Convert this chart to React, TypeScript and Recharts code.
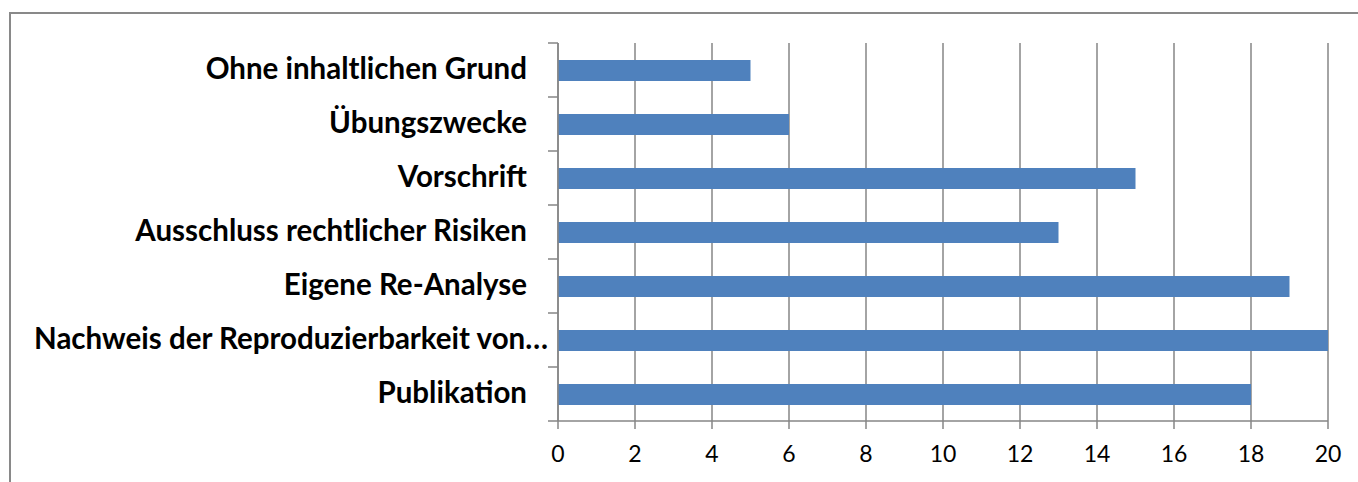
import React from "react"
import { Bar, BarChart, CartesianGrid, XAxis, YAxis } from "recharts"

const categories = [
  "Ohne inhaltlichen Grund",
  "Übungszwecke",
  "Vorschrift",
  "Ausschluss rechtlicher Risiken",
  "Eigene Re-Analyse",
  "Nachweis der Reproduzierbarkeit von…",
  "Publikation",
]
const counts = [5, 6, 15, 13, 19, 20, 18]
const xTicks = [0, 2, 4, 6, 8, 10, 12, 14, 16, 18, 20]

const data = categories.map((name, i) => ({ name, value: counts[i] }))

const GRID = "#868686"

const CategoryTick = (props: any) => {
  const { x, y, payload, index, visibleTicksCount } = props
  const half = payload.offset || 0
  const truncated = String(payload.value).endsWith("…")
  return (
    <g>
      <line x1={x - 10} x2={x} y1={y - half} y2={y - half} stroke={GRID} strokeWidth={1.5} />
      {index === visibleTicksCount - 1 && (
        <line x1={x - 10} x2={x} y1={y + half} y2={y + half} stroke={GRID} strokeWidth={1.5} />
      )}
      <text
        x={truncated ? x - 10 : x - 31}
        y={y + 9}
        textAnchor="end"
        fill="#000"
        fontFamily="Lato"
        fontWeight={700}
        fontSize={29.5}
      >
        {payload.value}
      </text>
    </g>
  )
}

export default function App() {
  return (
    <div style={{ position: "absolute", left: 0, top: 0, width: 1358, height: 482, background: "#fff" }}>
      <div
        style={{
          position: "absolute",
          left: 9,
          top: 12,
          right: -4,
          bottom: -4,
          borderTop: "2px solid #898989",
          borderLeft: "2px solid #898989",
        }}
      />
      <BarChart
        width={1358}
        height={482}
        data={data}
        layout="vertical"
        margin={{ top: 43, right: 30, bottom: 0, left: 10 }}
        style={{ position: "absolute", left: 0, top: 0 }}
      >
        <CartesianGrid horizontal={false} stroke={GRID} strokeWidth={1.5} />
        <XAxis
          type="number"
          domain={[0, 20]}
          ticks={xTicks}
          interval={0}
          height={61}
          axisLine={{ stroke: GRID, strokeWidth: 1.5 }}
          tickLine={{ stroke: GRID, strokeWidth: 1.5 }}
          tickSize={8}
          tickMargin={17}
          tick={{ fill: "#000", fontFamily: "Lato", fontSize: 23 }}
        />
        <YAxis
          type="category"
          dataKey="name"
          width={548}
          interval={0}
          axisLine={{ stroke: GRID, strokeWidth: 1.5 }}
          tickLine={false}
          tickSize={0}
          tickMargin={0}
          tick={<CategoryTick />}
        />
        <Bar dataKey="value" fill="#4F81BD" barSize={21} isAnimationActive={false} />
      </BarChart>
    </div>
  )
}
